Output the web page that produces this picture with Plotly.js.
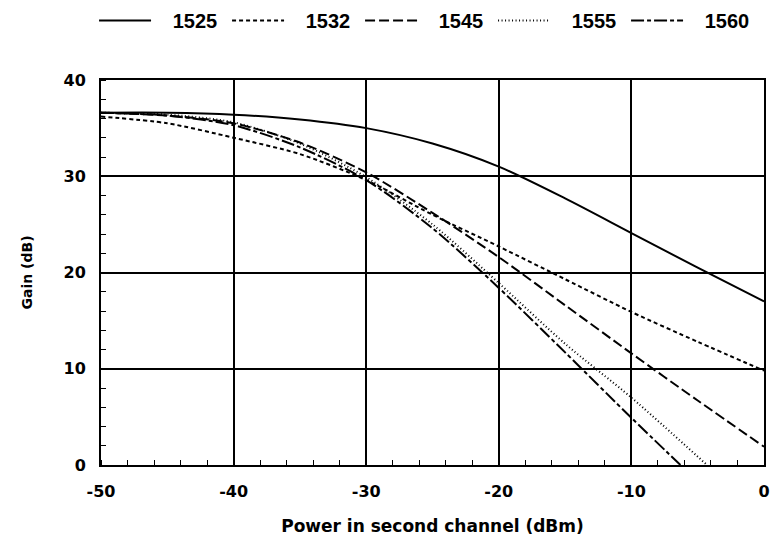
<!DOCTYPE html>
<html>
<head>
<meta charset="utf-8">
<script src="https://cdn.plot.ly/plotly-3.0.1.min.js"></script>
<style>html,body{margin:0;padding:0;background:#fff;}#chart{width:771px;height:560px;}</style>
</head>
<body>
<div id="chart"></div>
<script>
// Power in second channel (dBm)
const power = [-50, -45, -40, -35, -30, -25, -20, -15, -10, -5, 0];

const seriesNames = ["1525", "1532", "1545", "1555", "1560"];

const gain1525 = [36.6, 36.6, 36.4, 35.9, 35.0, 33.4, 31.0, 27.7, 24.1, 20.5, 17.0];
const gain1532 = [36.2, 35.5, 34.0, 32.3, 29.6, 26.0, 22.7, 19.3, 15.9, 12.8, 9.8];
const gain1545 = [36.6, 36.3, 35.5, 33.5, 30.4, 26.2, 21.6, 16.6, 11.6, 6.7, 1.9];

const power1555 = [-50, -45, -40, -35, -30, -25, -20, -15, -10, -4.3];
const gain1555 = [36.6, 36.4, 35.6, 33.4, 29.9, 25.0, 18.9, 12.6, 7.0, 0];

const power1560 = [-50, -45, -40, -35, -30, -25, -20, -15, -10, -6.3];
const gain1560 = [36.6, 36.3, 35.3, 33.0, 29.6, 24.6, 18.4, 11.7, 4.9, 0];

const xTicks = [-50, -40, -30, -20, -10, 0];
const yTicks = [0, 10, 20, 30, 40];

const FONT = "Liberation Sans, Arial, sans-serif";
const WIDE = "DejaVu Sans, Verdana, sans-serif";
const dashes = ["solid", "4px,3px", "10px,4px", "1px,2.5px", "13px,3px,4px,3px"];
const xs = [power, power, power, power1555, power1560];
const ys = [gain1525, gain1532, gain1545, gain1555, gain1560];
const PAD = "\u00a0\u00a0\u00a0";

const traces = seriesNames.map((n, i) => ({
  x: xs[i], y: ys[i], name: PAD + n, type: "scatter", mode: "lines",
  line: {color: "#000", width: 2, dash: dashes[i], shape: "spline", smoothing: 0.8},
  cliponaxis: true
}));

const layout = {
  width: 771, height: 560,
  margin: {l: 101, r: 7, t: 80, b: 95, autoexpand: false},
  paper_bgcolor: "#fff", plot_bgcolor: "#fff",
  font: {family: FONT, color: "#000", size: 16, weight: "bold"},
  showlegend: true,
  legend: {
    orientation: "h", xref: "container", yref: "container",
    x: 0.122, xanchor: "left", y: 0.998, yanchor: "top",
    entrywidth: 66, itemwidth: 52,
    font: {family: FONT, size: 20, weight: "bold", color: "#000"},
    bgcolor: "rgba(0,0,0,0)", tracegroupgap: 0
  },
  xaxis: {
    range: [-50, 0], tickvals: xTicks, ticktext: xTicks.map(String),
    showgrid: true, gridcolor: "#000", gridwidth: 2,
    showline: true, linecolor: "#000", linewidth: 2, mirror: true,
    zeroline: false, ticks: "", ticklabelstandoff: 11,
    tickfont: {family: WIDE, size: 16, weight: "bold", color: "#000"},
    minor: {dtick: 2, tick0: 0, ticks: "inside", ticklen: 5, tickcolor: "#000", tickwidth: 1, showgrid: false},
    title: {text: "Power in second channel (dBm)", standoff: 20,
            font: {family: WIDE, size: 17, weight: "bold", color: "#000"}}
  },
  yaxis: {
    range: [0, 40], tickvals: yTicks, ticktext: yTicks.map(String),
    showgrid: true, gridcolor: "#000", gridwidth: 2,
    showline: true, linecolor: "#000", linewidth: 2, mirror: true,
    zeroline: false, ticks: "", ticklabelstandoff: 10,
    tickfont: {family: WIDE, size: 16, weight: "bold", color: "#000"},
    minor: {dtick: 2, tick0: 0, ticks: "inside", ticklen: 5, tickcolor: "#000", tickwidth: 1, showgrid: false},
    title: {text: "Gain (dB)", standoff: 28,
            font: {family: WIDE, size: 14, weight: "bold", color: "#000"}}
  }
};

Plotly.newPlot("chart", traces, layout, {staticPlot: true, displayModeBar: false});
</script>
</body>
</html>
